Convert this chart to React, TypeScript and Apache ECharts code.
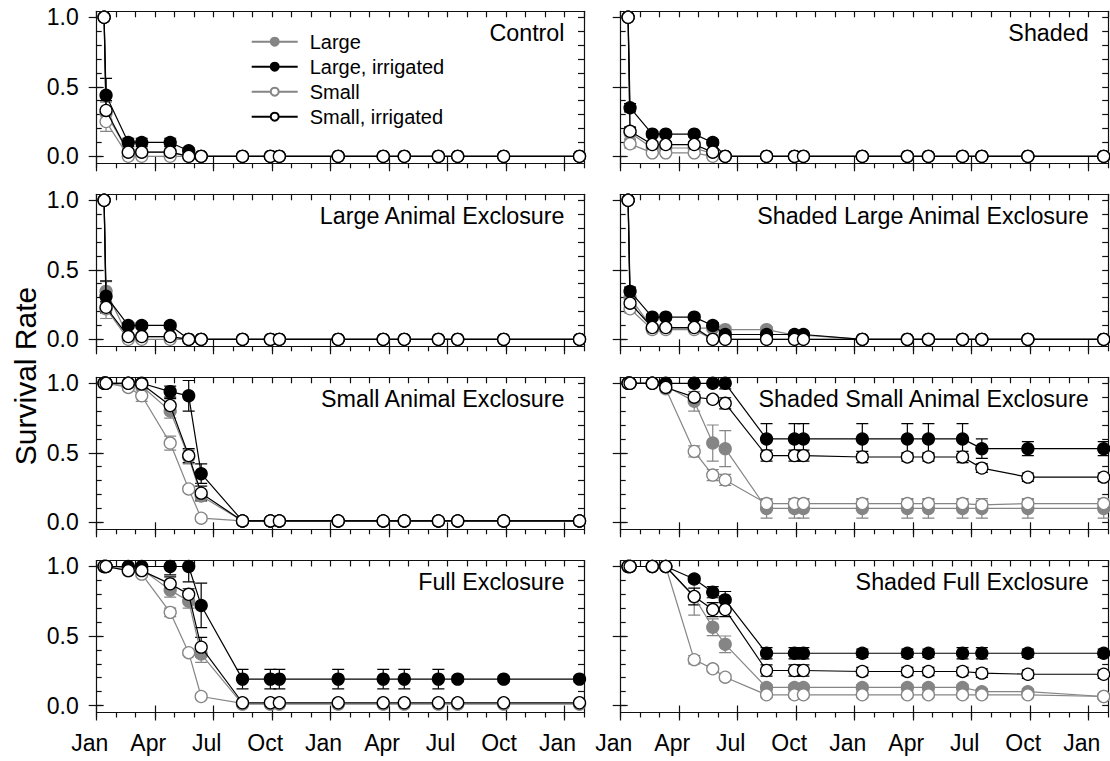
import React, { useEffect, useRef } from "react";
import * as echarts from "echarts";

// ---------- data ----------
const monthNames = ["Jan", "Feb", "Mar", "Apr", "May", "Jun", "Jul", "Aug", "Sep", "Oct", "Nov", "Dec"];
const quarterTicks = [0, 3, 6, 9, 12, 15, 18, 21, 24];
const monthTicks = [0, 1, 2, 3, 4, 5, 6, 7, 8, 9, 10, 11, 12, 13, 14, 15, 16, 17, 18, 19, 20, 21, 22, 23, 24, 25];
const yLabelTicks = [0, 0.5, 1];
const yMinorTicks = [0, 0.1, 0.2, 0.3, 0.4, 0.5, 0.6, 0.7, 0.8, 0.9, 1];
// survey dates, in months since 1 January of the first year
const surveyMonths = [0.38, 0.48, 1.62, 2.31, 3.77, 4.72, 5.36, 7.48, 8.91, 9.37, 12.39, 14.7, 15.78, 17.53, 18.52, 20.88, 24.77];
const seriesNames = ["Large", "Large, irrigated", "Small", "Small, irrigated"];
const panelTitles = [
  "Control",
  "Shaded",
  "Large Animal Exclosure",
  "Shaded Large Animal Exclosure",
  "Small Animal Exclosure",
  "Shaded Small Animal Exclosure",
  "Full Exclosure",
  "Shaded Full Exclosure",
];

// each panel: [Large, Large irrigated, Small, Small irrigated]
const controlMean = [
  [1, 0.31, 0.03, 0.03, 0.03, 0, 0, 0, 0, 0, 0, 0, 0, 0, 0, 0, 0],
  [1, 0.44, 0.1, 0.1, 0.1, 0.04, 0, 0, 0, 0, 0, 0, 0, 0, 0, 0, 0],
  [1, 0.25, 0, 0, 0, 0, 0, 0, 0, 0, 0, 0, 0, 0, 0, 0, 0],
  [1, 0.33, 0.03, 0.03, 0.03, 0, 0, 0, 0, 0, 0, 0, 0, 0, 0, 0, 0],
];
const controlErr = [
  [0, 0.08, 0.02, 0.02, 0.02, 0, 0, 0, 0, 0, 0, 0, 0, 0, 0, 0, 0],
  [0, 0.12, 0.03, 0.03, 0.03, 0.02, 0, 0, 0, 0, 0, 0, 0, 0, 0, 0, 0],
  [0, 0.07, 0, 0, 0, 0, 0, 0, 0, 0, 0, 0, 0, 0, 0, 0, 0],
  [0, 0.07, 0.02, 0.02, 0.02, 0, 0, 0, 0, 0, 0, 0, 0, 0, 0, 0, 0],
];
const shadedMean = [
  [1, 0.17, 0.06, 0.06, 0.06, 0.02, 0, 0, 0, 0, 0, 0, 0, 0, 0, 0, 0],
  [1, 0.35, 0.16, 0.16, 0.16, 0.1, 0, 0, 0, 0, 0, 0, 0, 0, 0, 0, 0],
  [1, 0.09, 0.025, 0.025, 0.025, 0, 0, 0, 0, 0, 0, 0, 0, 0, 0, 0, 0],
  [1, 0.18, 0.085, 0.085, 0.085, 0.03, 0, 0, 0, 0, 0, 0, 0, 0, 0, 0, 0],
];
const shadedErr = [
  [0, 0.04, 0.02, 0.02, 0.02, 0.01, 0, 0, 0, 0, 0, 0, 0, 0, 0, 0, 0],
  [0, 0.03, 0.02, 0.02, 0.02, 0.02, 0, 0, 0, 0, 0, 0, 0, 0, 0, 0, 0],
  [0, 0.03, 0.01, 0.01, 0.01, 0, 0, 0, 0, 0, 0, 0, 0, 0, 0, 0, 0],
  [0, 0.03, 0.02, 0.02, 0.02, 0.01, 0, 0, 0, 0, 0, 0, 0, 0, 0, 0, 0],
];
const largeAnimalMean = [
  [1, 0.345, 0.02, 0.02, 0.02, 0, 0, 0, 0, 0, 0, 0, 0, 0, 0, 0, 0],
  [1, 0.31, 0.1, 0.1, 0.1, 0, 0, 0, 0, 0, 0, 0, 0, 0, 0, 0, 0],
  [1, 0.22, 0, 0, 0, 0, 0, 0, 0, 0, 0, 0, 0, 0, 0, 0, 0],
  [1, 0.23, 0.02, 0.02, 0.02, 0, 0, 0, 0, 0, 0, 0, 0, 0, 0, 0, 0],
];
const largeAnimalErr = [
  [0, 0.07, 0.01, 0.01, 0.01, 0, 0, 0, 0, 0, 0, 0, 0, 0, 0, 0, 0],
  [0, 0.11, 0.02, 0.02, 0.02, 0, 0, 0, 0, 0, 0, 0, 0, 0, 0, 0, 0],
  [0, 0.07, 0, 0, 0, 0, 0, 0, 0, 0, 0, 0, 0, 0, 0, 0, 0],
  [0, 0.04, 0.01, 0.01, 0.01, 0, 0, 0, 0, 0, 0, 0, 0, 0, 0, 0, 0],
];
const shadedLargeAnimalMean = [
  [1, 0.3, 0.08, 0.08, 0.08, 0.08, 0.07, 0.07, 0.03, 0.03, 0, 0, 0, 0, 0, 0, 0],
  [1, 0.345, 0.16, 0.16, 0.16, 0.1, 0.035, 0.035, 0.035, 0.035, 0, 0, 0, 0, 0, 0, 0],
  [1, 0.22, 0.07, 0.07, 0.07, 0, 0, 0, 0, 0, 0, 0, 0, 0, 0, 0, 0],
  [1, 0.26, 0.085, 0.085, 0.085, 0, 0, 0, 0, 0, 0, 0, 0, 0, 0, 0, 0],
];
const shadedLargeAnimalErr = [
  [0, 0.04, 0.02, 0.02, 0.02, 0.02, 0.02, 0.02, 0.01, 0.01, 0, 0, 0, 0, 0, 0, 0],
  [0, 0.03, 0.02, 0.02, 0.02, 0.02, 0.01, 0.01, 0.01, 0.01, 0, 0, 0, 0, 0, 0, 0],
  [0, 0.03, 0.01, 0.01, 0.01, 0, 0, 0, 0, 0, 0, 0, 0, 0, 0, 0, 0],
  [0, 0.03, 0.02, 0.02, 0.02, 0, 0, 0, 0, 0, 0, 0, 0, 0, 0, 0, 0],
];
const smallAnimalMean = [
  [1, 1, 0.98, 0.98, 0.8, 0.47, 0.19, 0.01, 0.01, 0.01, 0.01, 0.01, 0.01, 0.01, 0.01, 0.01, 0.01],
  [1, 1, 1, 1, 0.94, 0.91, 0.35, 0.01, 0.01, 0.01, 0.01, 0.01, 0.01, 0.01, 0.01, 0.01, 0.01],
  [1, 1, 0.97, 0.91, 0.57, 0.24, 0.03, 0.01, 0.01, 0.01, 0.01, 0.01, 0.01, 0.01, 0.01, 0.01, 0.01],
  [1, 1, 1, 0.995, 0.84, 0.48, 0.21, 0.01, 0.01, 0.01, 0.01, 0.01, 0.01, 0.01, 0.01, 0.01, 0.01],
];
const smallAnimalErr = [
  [0, 0, 0.01, 0.02, 0.05, 0.05, 0.04, 0.01, 0.01, 0.01, 0.01, 0.01, 0.01, 0.01, 0.01, 0.01, 0.01],
  [0, 0, 0, 0.01, 0.04, 0.11, 0.07, 0.01, 0.01, 0.01, 0.01, 0.01, 0.01, 0.01, 0.01, 0.01, 0.01],
  [0, 0, 0.02, 0.04, 0.05, 0.02, 0.02, 0.01, 0.01, 0.01, 0.01, 0.01, 0.01, 0.01, 0.01, 0.01, 0.01],
  [0, 0, 0, 0.01, 0.05, 0.05, 0.05, 0.01, 0.01, 0.01, 0.01, 0.01, 0.01, 0.01, 0.01, 0.01, 0.01],
];
const shadedSmallAnimalMean = [
  [1, 1, 1, 0.98, 0.87, 0.57, 0.53, 0.1, 0.1, 0.1, 0.1, 0.1, 0.1, 0.1, 0.1, 0.1, 0.1],
  [1, 1, 1, 1, 1, 1, 1, 0.6, 0.6, 0.6, 0.6, 0.6, 0.6, 0.6, 0.53, 0.53, 0.53],
  [1, 1, 1, 0.96, 0.51, 0.34, 0.305, 0.135, 0.135, 0.135, 0.135, 0.135, 0.135, 0.135, 0.125, 0.135, 0.135],
  [1, 1, 1, 0.97, 0.9, 0.885, 0.856, 0.48, 0.48, 0.48, 0.47, 0.47, 0.47, 0.47, 0.39, 0.325, 0.325],
];
const shadedSmallAnimalErr = [
  [0, 0, 0, 0.01, 0.07, 0.13, 0.13, 0.07, 0.07, 0.07, 0.07, 0.07, 0.07, 0.07, 0.07, 0.07, 0.07],
  [0, 0, 0, 0, 0, 0, 0.04, 0.11, 0.11, 0.11, 0.11, 0.11, 0.11, 0.11, 0.07, 0.05, 0.05],
  [0, 0, 0, 0.01, 0.04, 0.04, 0.04, 0.03, 0.03, 0.03, 0.03, 0.03, 0.03, 0.03, 0.03, 0.03, 0.03],
  [0, 0, 0, 0.01, 0.02, 0.02, 0.04, 0.04, 0.04, 0.04, 0.04, 0.03, 0.03, 0.04, 0.03, 0.03, 0.03],
];
const fullMean = [
  [1, 1, 0.99, 0.98, 0.83, 0.75, 0.37, 0.01, 0.01, 0.01, 0.01, 0.01, 0.01, 0.01, 0.01, 0.01, 0.01],
  [1, 1, 1, 1, 1, 1, 0.72, 0.19, 0.19, 0.19, 0.19, 0.19, 0.19, 0.19, 0.19, 0.19, 0.19],
  [1, 1, 0.97, 0.945, 0.67, 0.38, 0.065, 0.015, 0.015, 0.015, 0.015, 0.015, 0.015, 0.015, 0.015, 0.015, 0.015],
  [1, 1, 0.97, 0.97, 0.875, 0.8, 0.42, 0.02, 0.02, 0.02, 0.02, 0.02, 0.02, 0.02, 0.02, 0.02, 0.02],
];
const fullErr = [
  [0, 0, 0.01, 0.02, 0.05, 0.05, 0.06, 0.01, 0.01, 0.01, 0.01, 0.01, 0.01, 0.01, 0.01, 0.01, 0.01],
  [0, 0, 0.01, 0.01, 0.06, 0.11, 0.16, 0.07, 0.07, 0.07, 0.07, 0.07, 0.07, 0.07, 0.02, 0.02, 0.02],
  [0, 0, 0.01, 0.02, 0.03, 0.02, 0.02, 0.01, 0.01, 0.01, 0.01, 0.01, 0.01, 0.01, 0.01, 0.01, 0.01],
  [0, 0, 0.01, 0.02, 0.05, 0.04, 0.07, 0.01, 0.01, 0.01, 0.01, 0.01, 0.01, 0.01, 0.01, 0.01, 0.01],
];
const shadedFullMean = [
  [1, 1, 1, 1, 0.78, 0.563, 0.44, 0.13, 0.13, 0.13, 0.13, 0.13, 0.13, 0.13, 0.1, 0.1, 0.065],
  [1, 1, 1, 1, 0.91, 0.815, 0.76, 0.376, 0.376, 0.376, 0.376, 0.376, 0.376, 0.376, 0.376, 0.376, 0.376],
  [1, 1, 1, 1, 0.33, 0.264, 0.204, 0.077, 0.077, 0.077, 0.077, 0.077, 0.077, 0.077, 0.077, 0.077, 0.065],
  [1, 1, 1, 1, 0.784, 0.69, 0.69, 0.252, 0.252, 0.252, 0.245, 0.245, 0.245, 0.245, 0.233, 0.225, 0.225],
];
const shadedFullErr = [
  [0, 0, 0, 0, 0.13, 0.06, 0.06, 0.02, 0.02, 0.02, 0.02, 0.02, 0.02, 0.02, 0.02, 0.02, 0.02],
  [0, 0, 0, 0, 0.02, 0.04, 0.06, 0.04, 0.04, 0.04, 0.03, 0.03, 0.03, 0.04, 0.04, 0.03, 0.03],
  [0, 0, 0, 0, 0.03, 0.02, 0.02, 0.02, 0.02, 0.02, 0.02, 0.02, 0.02, 0.02, 0.02, 0.02, 0.02],
  [0, 0, 0, 0, 0.06, 0.05, 0.05, 0.04, 0.04, 0.04, 0.03, 0.03, 0.03, 0.03, 0.03, 0.03, 0.03],
];

const panelMeans = [
  controlMean, shadedMean, largeAnimalMean, shadedLargeAnimalMean,
  smallAnimalMean, shadedSmallAnimalMean, fullMean, shadedFullMean,
];
const panelErrs = [
  controlErr, shadedErr, largeAnimalErr, shadedLargeAnimalErr,
  smallAnimalErr, shadedSmallAnimalErr, fullErr, shadedFullErr,
];

// ---------- styling / layout ----------
const FONT = "'Liberation Sans', Arial, Helvetica, sans-serif";
const GRAY = "#858585";
const BLACK = "#000000";
const seriesStyles = [
  { line: GRAY, fill: GRAY, border: GRAY },
  { line: BLACK, fill: BLACK, border: BLACK },
  { line: GRAY, fill: "#ffffff", border: GRAY },
  { line: BLACK, fill: "#ffffff", border: BLACK },
];
const drawOrder = [0, 2, 1, 3];
const colLeft = [96.7, 620.7];
const colWidth = [487.3, 487.5];
const rowTop = [11.3, 194.3, 377.3, 560.5];
const GRID_H = 152;
const Y_MIN = -0.05;
const Y_MAX = 1.043;
const X_MAX = 25;
const AXIS_LINE = { color: "#111", width: 1.2 };

function buildOption() {
  const grid: any[] = [];
  const xAxis: any[] = [];
  const yAxis: any[] = [];
  const series: any[] = [];
  const graphic: any[] = [];

  for (let i = 0; i < 8; i++) {
    const col = i % 2;
    const row = Math.floor(i / 2);
    grid.push({ left: colLeft[col], top: rowTop[row], width: colWidth[col], height: GRID_H });

    const xb = {
      type: "value", gridIndex: i, min: 0, max: X_MAX, splitLine: { show: false },
      axisLine: { show: false, onZero: false }, axisLabel: { show: false }, axisTick: { show: false },
      silent: true,
    };
    xAxis.push({
      ...xb, position: "bottom",
      axisLine: { show: true, onZero: false, lineStyle: AXIS_LINE },
      axisTick: { show: true, length: 8, customValues: quarterTicks, lineStyle: AXIS_LINE },
      axisLabel: {
        show: row === 3, customValues: quarterTicks, margin: 19, fontSize: 23, fontFamily: FONT, color: "#000",
        padding: [0, 14, 0, 0],
        formatter: (v: number) => monthNames[Math.round(v) % 12],
      },
    });
    xAxis.push({ ...xb, position: "bottom", axisTick: { show: true, length: 5, customValues: monthTicks, lineStyle: AXIS_LINE } });
    xAxis.push({ ...xb, position: "bottom", axisTick: { show: true, inside: true, length: 7, customValues: quarterTicks, lineStyle: AXIS_LINE } });
    xAxis.push({
      ...xb, position: "top",
      axisLine: { show: true, onZero: false, lineStyle: AXIS_LINE },
      axisTick: { show: true, inside: true, length: 6, customValues: monthTicks, lineStyle: AXIS_LINE },
    });

    const yb = {
      type: "value", gridIndex: i, min: Y_MIN, max: Y_MAX, splitLine: { show: false },
      axisLine: { show: false, onZero: false }, axisLabel: { show: false }, axisTick: { show: false },
      silent: true,
    };
    yAxis.push({
      ...yb, position: "left",
      axisLine: { show: true, onZero: false, lineStyle: AXIS_LINE },
      axisTick: { show: true, length: 8, customValues: yLabelTicks, lineStyle: AXIS_LINE },
      axisLabel: {
        show: col === 0, customValues: yLabelTicks, margin: 18, fontSize: 23, fontFamily: FONT, color: "#000",
        formatter: (v: number) => v.toFixed(1),
      },
    });
    yAxis.push({ ...yb, position: "left", axisTick: { show: true, inside: true, length: 5, customValues: yMinorTicks, lineStyle: AXIS_LINE } });
    yAxis.push({ ...yb, position: "left", axisTick: { show: true, inside: true, length: 7, customValues: yLabelTicks, lineStyle: AXIS_LINE } });
    yAxis.push({
      ...yb, position: "right",
      axisLine: { show: true, onZero: false, lineStyle: AXIS_LINE },
      axisTick: { show: true, inside: true, length: 6, customValues: yMinorTicks, lineStyle: AXIS_LINE },
    });

    const means = panelMeans[i];
    const errs = panelErrs[i];
    drawOrder.forEach((k, order) => {
      const st = seriesStyles[k];
      series.push({
        type: "custom",
        name: seriesNames[k] + " SE",
        xAxisIndex: i * 4, yAxisIndex: i * 4,
        data: surveyMonths.map((m, j) => [m, means[k][j], errs[k][j]]),
        encode: { x: 0, y: 1 },
        z: 2,
        clip: true,
        silent: true,
        renderItem: (_p: any, api: any) => {
          const x = api.value(0);
          const y = api.value(1);
          const e = api.value(2);
          if (!(e > 0)) return { type: "group", children: [] };
          const a = api.coord([x, y + e]);
          const b = api.coord([x, y - e]);
          const hw = 6;
          const style = { stroke: st.line, lineWidth: 1.2 };
          return {
            type: "group",
            children: [
              { type: "line", shape: { x1: a[0], y1: a[1], x2: b[0], y2: b[1] }, style },
              { type: "line", shape: { x1: a[0] - hw, y1: a[1], x2: a[0] + hw, y2: a[1] }, style },
              { type: "line", shape: { x1: b[0] - hw, y1: b[1], x2: b[0] + hw, y2: b[1] }, style },
            ],
          };
        },
      });
      series.push({
        type: "line",
        name: seriesNames[k],
        xAxisIndex: i * 4, yAxisIndex: i * 4,
        data: surveyMonths.map((m, j) => [m, means[k][j]]),
        symbol: "circle", symbolSize: 12, showSymbol: true, showAllSymbol: true,
        lineStyle: { color: st.line, width: 1.2 },
        itemStyle: { color: st.fill, borderColor: st.border, borderWidth: 1.3 },
        z: 3 + order,
        clip: false,
        silent: true,
        emphasis: { disabled: true },
      });
    });

    graphic.push({
      type: "text",
      x: colLeft[col] + colWidth[col] - 19.5,
      y: rowTop[row] + 21.6,
      style: {
        text: panelTitles[i], fill: "#000", font: `23.3px ${FONT}`,
        textAlign: "right", textVerticalAlign: "middle",
      },
    });
  }

  graphic.push({
    type: "text",
    x: 25, y: 376, rotation: Math.PI / 2,
    style: {
      text: "Survival Rate", fill: "#000", font: `30px ${FONT}`,
      textAlign: "center", textVerticalAlign: "middle",
    },
  });

  return {
    animation: false,
    backgroundColor: "#ffffff",
    textStyle: { fontFamily: FONT },
    grid, xAxis, yAxis, series, graphic,
    legend: {
      data: seriesNames,
      orient: "vertical",
      left: 250.7, top: 31.7, padding: 0,
      itemWidth: 46, itemHeight: 10, itemGap: 5,
      selectedMode: false,
      textStyle: { fontSize: 20, fontFamily: FONT, color: "#000", lineHeight: 20, padding: [0, 0, 0, 7] },
    },
  };
}

export default function App() {
  const ref = useRef<HTMLDivElement>(null);
  useEffect(() => {
    if (!ref.current) return;
    const chart = echarts.init(ref.current, undefined, { renderer: "svg" });
    chart.setOption(buildOption() as any);
    return () => chart.dispose();
  }, []);
  return (
    <div
      ref={ref}
      style={{ position: "absolute", left: 0, top: 0, width: 1110, height: 761, background: "#fff" }}
    />
  );
}
